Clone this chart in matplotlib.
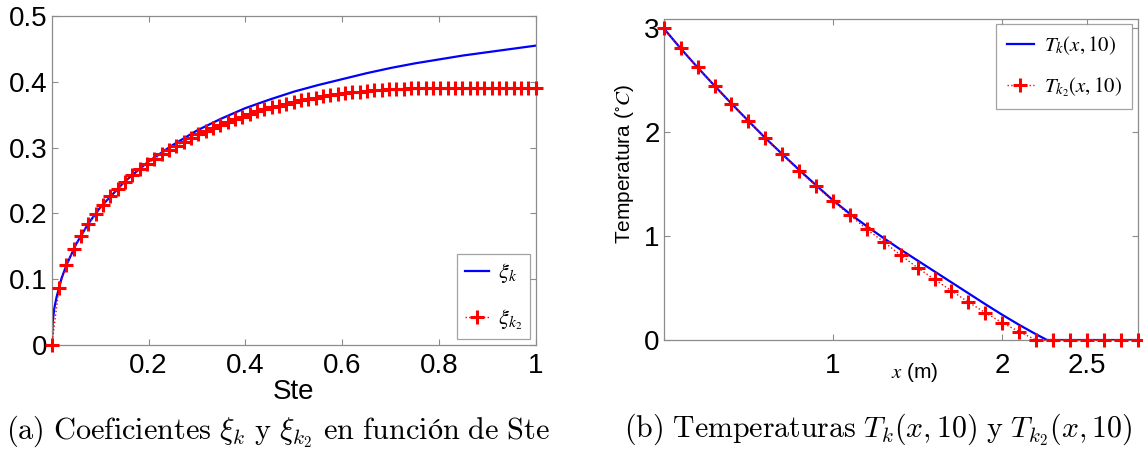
import numpy as np
import matplotlib.pyplot as plt

plt.rcParams['font.family'] = ['Liberation Sans', 'DejaVu Sans']
plt.rcParams['mathtext.fontset'] = 'stix'

# ── datos (a): coeficientes frente a Ste ─────────────────────────────────
ste_k = [0.0, 0.002, 0.005, 0.01, 0.02, 0.03, 0.05, 0.075, 0.1, 0.15, 0.2,
         0.25, 0.3, 0.35, 0.4, 0.45, 0.5, 0.55, 0.6, 0.65, 0.7, 0.75, 0.8,
         0.85, 0.9, 0.95, 1.0]
xi_k = [0.0, 0.035, 0.055, 0.073, 0.101, 0.121, 0.153, 0.184, 0.209, 0.248,
        0.279, 0.304, 0.326, 0.344, 0.360, 0.373, 0.385, 0.395, 0.404, 0.413,
        0.421, 0.428, 0.434, 0.440, 0.445, 0.450, 0.455]

ste_k2 = np.linspace(0, 1, 67)
xi_k2 = [0.0, 0.087, 0.121, 0.146, 0.166, 0.184, 0.199, 0.213, 0.226, 0.237,
         0.248, 0.258, 0.267, 0.275, 0.283, 0.290, 0.297, 0.303, 0.309, 0.315,
         0.320, 0.325, 0.330, 0.335, 0.339, 0.343, 0.347, 0.351, 0.355, 0.358,
         0.361, 0.364, 0.367, 0.370, 0.372, 0.374, 0.376, 0.378, 0.3795, 0.381,
         0.3825, 0.384, 0.385, 0.386, 0.387, 0.388, 0.3885, 0.389, 0.3895,
         0.390, 0.3903, 0.3906, 0.3908, 0.391, 0.391, 0.391, 0.391, 0.391,
         0.391, 0.391, 0.391, 0.391, 0.391, 0.391, 0.391, 0.391, 0.391]

# ── datos (b): temperaturas en t = 10 ────────────────────────────────────
x_k = [0.0, 0.1, 0.2, 0.3, 0.4, 0.5, 0.6, 0.7, 0.8, 0.9, 1.0, 1.1, 1.2, 1.3,
       1.4, 1.5, 1.6, 1.7, 1.8, 1.9, 2.0, 2.1, 2.2, 2.265, 2.8]
T_k = [3.0, 2.807, 2.624, 2.448, 2.276, 2.109, 1.945, 1.79, 1.638, 1.49,
       1.345, 1.215, 1.095, 0.98, 0.87, 0.765, 0.66, 0.555, 0.45, 0.345,
       0.243, 0.146, 0.055, 0.0, 0.0]

x_k2 = np.round(np.arange(0, 2.85, 0.1), 2)
T_k2 = [3.0, 2.807, 2.624, 2.448, 2.275, 2.108, 1.941, 1.787, 1.630, 1.482,
        1.338, 1.203, 1.065, 0.945, 0.817, 0.696, 0.583, 0.474, 0.365, 0.263,
        0.167, 0.080, 0.0, 0.0, 0.0, 0.0, 0.0, 0.0, 0.0]


def matlab_axes(ax, pad_x, pad_y, size):
    for s in ax.spines.values():
        s.set_color('#8c8c8c')
        s.set_linewidth(0.9)
    ax.tick_params(direction='in', length=4, width=0.8, color='#8c8c8c',
                   top=True, right=True, labelsize=size)
    ax.tick_params(axis='x', pad=pad_x)
    ax.tick_params(axis='y', pad=pad_y)


fig = plt.figure(figsize=(11.43, 4.5), dpi=100)

# ── (a) ──────────────────────────────────────────────────────────────────
ax1 = fig.add_axes([0.0453, 0.2333, 0.4234, 0.7311])
ax1.plot(ste_k, xi_k, color='#0000ff', lw=1.6, label=r'$\xi_k$')
ax1.plot(ste_k2, xi_k2, color='red', ls=':', lw=1, marker='+', ms=10,
         mew=2.2, label=r'$\xi_{k_2}$', clip_on=False, zorder=3)
ax1.set_xlim(0, 1)
ax1.set_ylim(0, 0.5)
ax1.set_xticks([0.2, 0.4, 0.6, 0.8, 1.0], ['0.2', '0.4', '0.6', '0.8', '1'])
ax1.set_yticks([0, 0.1, 0.2, 0.3, 0.4, 0.5],
               ['0', '0.1', '0.2', '0.3', '0.4', '0.5'])
matlab_axes(ax1, 6, 3, 20)
ax1.set_xlabel('Ste', fontsize=20, labelpad=0)
leg1 = ax1.legend(loc='lower right', fontsize=16, handlelength=1.1,
                  handletextpad=0.4, borderpad=0.35, labelspacing=1.0,
                  borderaxespad=0.25, fancybox=False, edgecolor='#8c8c8c',
                  bbox_to_anchor=(1, 0))
leg1.get_frame().set_linewidth(0.9)

# ── (b) ──────────────────────────────────────────────────────────────────
ax2 = fig.add_axes([0.5807, 0.2444, 0.4146, 0.7133])
ax2.plot(x_k, T_k, color='#0000ff', lw=1.6, label=r'$T_k(x,10)$')
ax2.plot(x_k2, T_k2, color='red', ls=':', lw=1, marker='+', ms=10,
         mew=2.2, label=r'$T_{k_2}(x,10)$', clip_on=False, zorder=3)
ax2.set_xlim(0, 2.8)
ax2.set_ylim(0, 3.09)
ax2.set_xticks([1, 2, 2.5], ['1', '2', '2.5'])
ax2.set_yticks([0, 1, 2, 3], ['0', '1', '2', '3'])
matlab_axes(ax2, 9, 3, 20)
ax2.set_ylabel(r'Temperatura ($^{\circ}C$)', fontsize=15)
ax2.yaxis.set_label_coords(-0.058, 0.55)
ax2.set_xlabel(r'$x$ (m)', fontsize=15)
ax2.xaxis.set_label_coords(0.53, -0.065)
leg2 = ax2.legend(loc='upper right', fontsize=15, handlelength=1.3,
                  handletextpad=0.5, borderpad=0.5, labelspacing=0.85,
                  borderaxespad=0.25, fancybox=False, edgecolor='#8c8c8c',
                  bbox_to_anchor=(1, 1))
leg2.get_frame().set_linewidth(0.9)

# ── pies de figura ───────────────────────────────────────────────────────
fig.text(0.243, 0.04,
         r'$\mathrm{(a)\ Coeficientes}\ \xi_k\ \mathrm{y}\ \xi_{k_2}\ '
         r'\mathrm{en\ función\ de\ Ste}$',
         ha='center', va='center', fontsize=21.8, math_fontfamily='cm')
fig.text(0.768, 0.044,
         r'$\mathrm{(b)\ Temperaturas}\ T_k(x,10)\ \mathrm{y}\ '
         r'T_{k_2}(x,10)$',
         ha='center', va='center', fontsize=21.5, math_fontfamily='cm')

fig.savefig('out.png', dpi=100)
